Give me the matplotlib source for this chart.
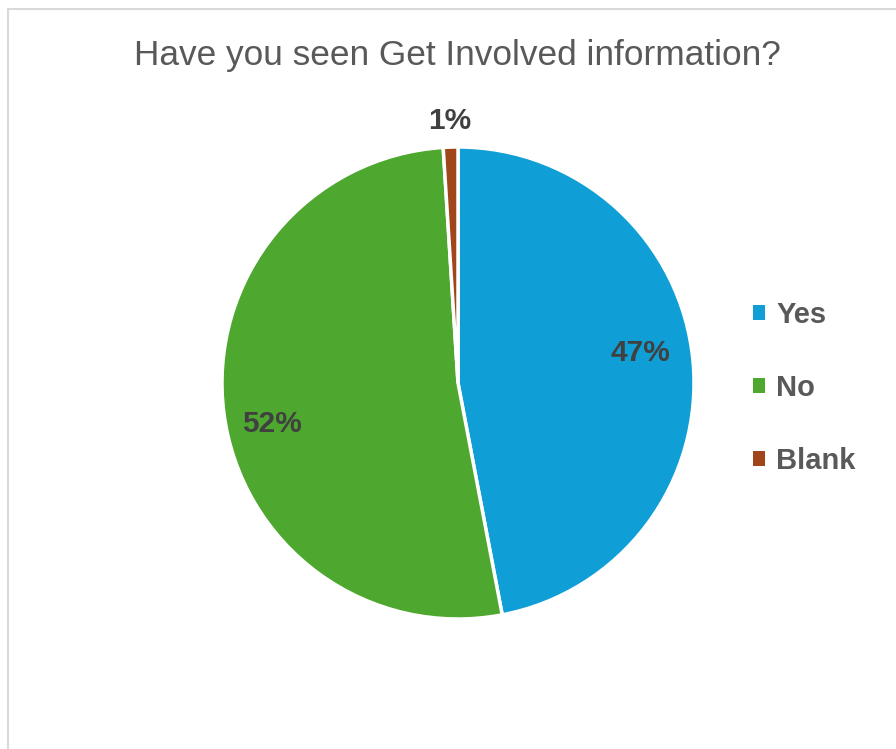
import matplotlib.pyplot as plt
from matplotlib.patches import Patch, Rectangle

# Survey answers
labels = ["Yes", "No", "Blank"]
shares = [47, 52, 1]
colors = ["#0f9ed5", "#4ea72e", "#a0461a"]

title = "Have you seen Get Involved information?"

plt.rcParams['font.family'] = ['Liberation Sans', 'DejaVu Sans']

fig = plt.figure(figsize=(8.96, 7.49), dpi=100)

# light frame around the chart area
fig.patches.append(Rectangle((8 / 896, -0.01), 1.0, 1 - 9 / 749 + 0.01,
                             transform=fig.transFigure, fill=False,
                             edgecolor="#d9d9d9", linewidth=1.5))

# pie centred at (458, 383) px with a 236 px radius
cx, cy, r = 458, 383, 236
ax = fig.add_axes([(cx - r) / 896, (749 - cy - r) / 749, 2 * r / 896, 2 * r / 749])

wedges, _ = ax.pie(shares, colors=colors, startangle=90, counterclock=False,
                   wedgeprops=dict(edgecolor="white", linewidth=2.5))
ax.set_xlim(-1, 1)
ax.set_ylim(-1, 1)
ax.set_aspect('equal')

# percentage labels
label_pos = [(0.771, 0.127), (-0.788, -0.174), (-0.034, 1.11)]
for v, (x, y) in zip(shares, label_pos):
    ax.text(x, y, f"{v}%", ha="center", va="center", fontsize=21.5,
            fontweight="bold", color="#404040")

fig.text(457 / 896, 1 - 55 / 749, title, ha="center", va="center",
         fontsize=25.4, color="#595959")

handles = [Patch(facecolor=c, edgecolor="none") for c in colors]
fig.legend(handles, labels, loc="center left", bbox_to_anchor=(753 / 896, 1 - 388 / 749),
           frameon=False, handlelength=0.41, handleheight=0.41,
           handletextpad=0.38, labelspacing=1.55, labelcolor="#595959",
           borderpad=0, borderaxespad=0,
           prop=dict(weight="bold", size=21))

fig.savefig("out.png", dpi=100)
